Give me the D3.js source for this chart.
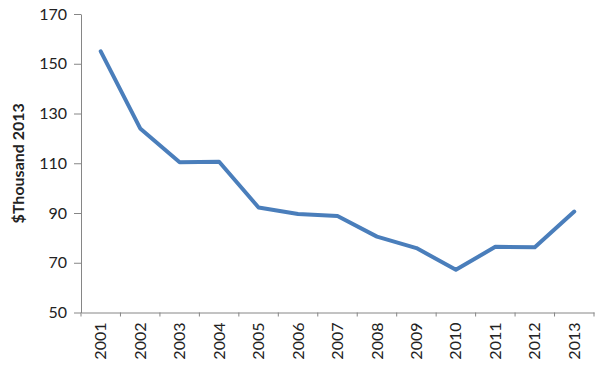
<!DOCTYPE html>
<html><head><meta charset="utf-8">
<script src="https://cdn.jsdelivr.net/npm/d3@7"></script>
<style>body{margin:0;background:#fff}svg{display:block}</style>
</head><body>
<script>
const years = ["2001","2002","2003","2004","2005","2006","2007","2008","2009","2010","2011","2012","2013"];
const values = [155, 124, 110.4, 110.6, 92.2, 89.6, 88.8, 80.5, 75.9, 67.2, 76.4, 76.2, 90.6];
const yTicks = [50, 70, 90, 110, 130, 150, 170];
const yTitle = "$Thousand 2013";

const W = 604, H = 372;
const m = {left: 81, right: 10, top: 14, bottom: 59};
const svg = d3.select("body").append("svg").attr("width", W).attr("height", H);
const x = d3.scaleBand().domain(years).range([81, 594]);
const y = d3.scaleLinear().domain([50, 170]).range([312.5, 14]);
const font = "Lato, 'Open Sans', sans-serif";
const axisColor = "#868686";

const gy = svg.append("g").attr("transform", `translate(${m.left},0)`)
  .call(d3.axisLeft(y).tickValues(yTicks).tickSize(7).tickPadding(7).tickSizeOuter(0));
gy.select(".domain").attr("stroke", axisColor);
gy.selectAll(".tick line").attr("stroke", axisColor);
gy.selectAll(".tick text").attr("font-family", font).attr("font-size", 16).attr("fill", "#222");

const gx = svg.append("g").attr("transform", `translate(0,${y(50)})`)
  .call(d3.axisBottom(x).tickSize(0).tickSizeOuter(0));
gx.select(".domain").attr("stroke", axisColor);
gx.selectAll(".tick line").remove();
gx.selectAll(".tick text")
  .attr("font-family", font).attr("font-size", 16).attr("fill", "#222")
  .attr("transform", "rotate(-90)")
  .attr("text-anchor", "end").attr("x", -10).attr("y", 0).attr("dy", "0.35em");
// boundary ticks between categories
const bounds = years.map(d => x(d)).concat([x(years[years.length-1]) + x.bandwidth()]);
svg.append("g").selectAll("line").data(bounds).join("line")
  .attr("x1", d => d).attr("x2", d => d)
  .attr("y1", y(50)).attr("y2", y(50) + 4)
  .attr("stroke", axisColor);

svg.append("text")
  .attr("transform", `translate(24,${(y(50)+y(170))/2}) rotate(-90)`)
  .attr("text-anchor", "middle")
  .attr("font-family", font).attr("font-size", 16).attr("font-weight", "bold").attr("fill", "#222")
  .text(yTitle);

const line = d3.line().x((d, i) => x(years[i]) + x.bandwidth()/2).y(d => y(d));
svg.append("path").datum(values)
  .attr("d", line).attr("fill", "none")
  .attr("stroke", "#4a7ebb").attr("stroke-width", 4).attr("stroke-linejoin", "round").attr("stroke-linecap", "round");
</script>
</body></html>
